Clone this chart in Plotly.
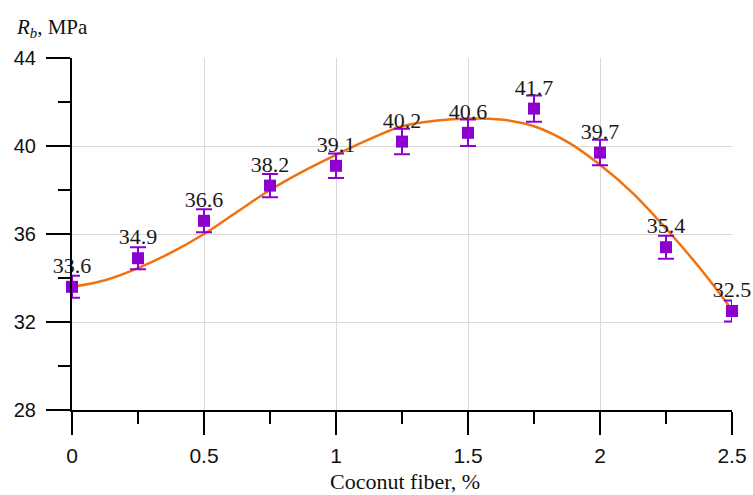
import plotly.graph_objects as go

# Data
fiber = [0, 0.25, 0.5, 0.75, 1.0, 1.25, 1.5, 1.75, 2.0, 2.25, 2.5]
strength = [33.6, 34.9, 36.6, 38.2, 39.1, 40.2, 40.6, 41.7, 39.7, 35.4, 32.5]
errors = [0.5, 0.5, 0.52, 0.53, 0.56, 0.58, 0.6, 0.6, 0.58, 0.52, 0.48]
labels = ["33.6", "34.9", "36.6", "38.2", "39.1", "40.2", "40.6", "41.7", "39.7", "35.4", "32.5"]

# Fitted trend curve
fit_x = [0, 0.125, 0.25, 0.375, 0.5, 0.625, 0.75, 0.875, 1.0, 1.125, 1.25, 1.375,
         1.5, 1.625, 1.75, 1.875, 2.0, 2.125, 2.25, 2.375, 2.5]
fit_y = [33.6, 33.9, 34.45, 35.15, 36.0, 37.0, 38.0, 38.85, 39.6, 40.3, 40.9, 41.15,
         41.25, 41.2, 40.9, 40.2, 39.15, 37.85, 36.25, 34.5, 32.55]

x_ticks = [0, 0.5, 1, 1.5, 2, 2.5]
x_ticktext = ["0", "0.5", "1", "1.5", "2", "2.5"]
y_ticks = [28, 32, 36, 40, 44]

PURPLE = "#8E00D0"
ORANGE = "#F0720F"

fig = go.Figure()

fig.add_trace(go.Scatter(
    x=fit_x, y=fit_y, mode="lines",
    line=dict(color=ORANGE, width=2.5, shape="spline", smoothing=1.0),
    hoverinfo="skip", showlegend=False, cliponaxis=False,
))

fig.add_trace(go.Scatter(
    x=fiber, y=strength, mode="markers+text",
    marker=dict(symbol="square", size=12, color=PURPLE),
    error_y=dict(type="data", array=errors, visible=True, color=PURPLE,
                 thickness=2, width=8),
    text=labels, textposition="top center",
    textfont=dict(family="Liberation Serif", size=22, color="#1a1a1a"),
    showlegend=False, cliponaxis=False,
))

fig.update_xaxes(
    range=[0, 2.5], tickvals=x_ticks, ticktext=x_ticktext,
    automargin=False,
    showgrid=True, gridcolor="#d9d9d9", gridwidth=1,
    showline=True, linecolor="black", linewidth=2,
    ticks="outside", ticklen=23, tickwidth=2, tickcolor="black",
    tickfont=dict(family="Liberation Sans", size=21, color="#111111"),
    ticklabelstandoff=3,
    minor=dict(dtick=0.25, tick0=0, ticks="outside", ticklen=12, tickwidth=2,
               tickcolor="black", showgrid=False),
    zeroline=False,
)

fig.update_yaxes(
    range=[28, 44], tickvals=y_ticks,
    automargin=False,
    showgrid=True, gridcolor="#d9d9d9", gridwidth=1,
    showline=True, linecolor="black", linewidth=2,
    ticks="outside", ticklen=24, tickwidth=2, tickcolor="black",
    tickfont=dict(family="Liberation Sans", size=20, color="#111111"),
    ticklabelstandoff=6,
    minor=dict(dtick=2, tick0=28, ticks="outside", ticklen=12, tickwidth=2,
               tickcolor="black", showgrid=False),
    zeroline=False,
)

fig.add_annotation(
    text="Coconut fiber, %", xref="paper", yref="paper",
    x=0.505, y=-0.203, xanchor="center", yanchor="middle", showarrow=False,
    font=dict(family="Liberation Serif", size=22, color="#111111"),
)

fig.add_annotation(
    text="<i>R<sub>b</sub></i>, MPa", xref="paper", yref="paper",
    x=-0.088, y=1.085, xanchor="left", yanchor="middle", showarrow=False,
    font=dict(family="Liberation Serif", size=21, color="#111111"),
)

fig.update_layout(
    width=753, height=495,
    margin=dict(l=72, r=21, t=58, b=85),
    plot_bgcolor="white", paper_bgcolor="white",
)

fig.write_html("out.html")
